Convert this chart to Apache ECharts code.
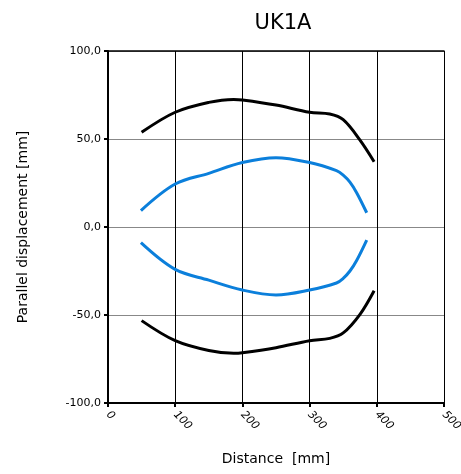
<!DOCTYPE html>
<html><head><meta charset="utf-8">
<script src="https://cdn.jsdelivr.net/npm/echarts@6/dist/echarts.min.js"></script>
<style>html,body{margin:0;padding:0;background:#fff}#c{width:461px;height:474px}</style>
</head><body><div id="c"></div>
<script>
const xTicks = [0, 100, 200, 300, 400, 500];
const yTicks = [-100, -50, 0, 50, 100];
const blackX = [50, 100, 150, 187, 200, 250, 300, 330, 350, 375, 396];
const blackUpper = [53.8, 65.2, 70.8, 72.5, 72.2, 69.3, 65.2, 64.2, 61.0, 49.4, 37.1];
const blackLower = [-53.2, -64.6, -70.2, -71.8, -71.5, -68.6, -64.6, -63.3, -60.2, -49.6, -36.2];
const blueX = [49, 100, 150, 200, 250, 300, 340, 350, 360, 370, 385];
const blueUpper = [9.3, 24.4, 30.5, 36.6, 39.4, 36.6, 32.0, 29.5, 25.5, 19.5, 8.1];
const blueLower = [-8.9, -24.1, -30.2, -35.8, -38.6, -35.8, -31.8, -29.2, -25.0, -19.0, -7.4];

const pair = (xs, ys) => xs.map((x, i) => [x, ys[i]]);
const fmt = v => v.toFixed(1).replace('.', ',');
const font = 'DejaVu Sans';
const chart = echarts.init(document.getElementById('c'));
const mk = (xs, ys, color) => ({
  type: 'line', data: pair(xs, ys), smooth: 0.35, showSymbol: false,
  lineStyle: { color: color, width: 3 }, xAxisIndex: 0, yAxisIndex: 0
});
chart.setOption({
  animation: false,
  title: { text: 'UK1A', left: 278, top: 8, textAlign: 'center',
    textStyle: { fontFamily: font, fontSize: 21, fontWeight: 'normal', color: '#000' } },
  grid: { left: 108, right: 17, top: 51, bottom: 71, containLabel: false, outerBoundsMode: 'none' },
  xAxis: [{
    type: 'value', min: 0, max: 500, interval: 100,
    name: 'Distance  [mm]', nameLocation: 'middle', nameGap: 49,
    nameTextStyle: { fontFamily: font, fontSize: 14, color: '#000' },
    axisLine: { show: true, onZero: false, lineStyle: { color: '#000', width: 2 } },
    axisTick: { show: true, length: 4, lineStyle: { color: '#000', width: 2 } },
    axisLabel: { rotate: -45, fontFamily: font, fontSize: 11, fontStyle: 'italic', color: '#000', margin: 10 },
    splitLine: { show: true, lineStyle: { color: '#000', width: 1 } }
  }, {
    type: 'value', position: 'top', min: 0, max: 500, interval: 100,
    axisLine: { show: true, onZero: false, lineStyle: { color: '#000', width: 1.5 } },
    axisTick: { show: false }, axisLabel: { show: false }, splitLine: { show: false }
  }],
  yAxis: {
    type: 'value', min: -100, max: 100, interval: 50,
    name: 'Parallel displacement [mm]', nameLocation: 'middle', nameGap: 78,
    nameTextStyle: { fontFamily: font, fontSize: 14, color: '#000' },
    axisLine: { show: true, onZero: false, lineStyle: { color: '#000', width: 2 } },
    axisTick: { show: true, length: 4, lineStyle: { color: '#000', width: 2 } },
    axisLabel: { formatter: fmt, fontFamily: font, fontSize: 11, color: '#000', margin: 7 },
    splitLine: { show: true, lineStyle: { color: '#888', width: 1 } }
  },
  series: [
    mk(blackX, blackUpper, '#000'),
    mk(blackX, blackLower, '#000'),
    mk(blueX, blueUpper, '#0b7fdb'),
    mk(blueX, blueLower, '#0b7fdb')
  ]
});
</script></body></html>
